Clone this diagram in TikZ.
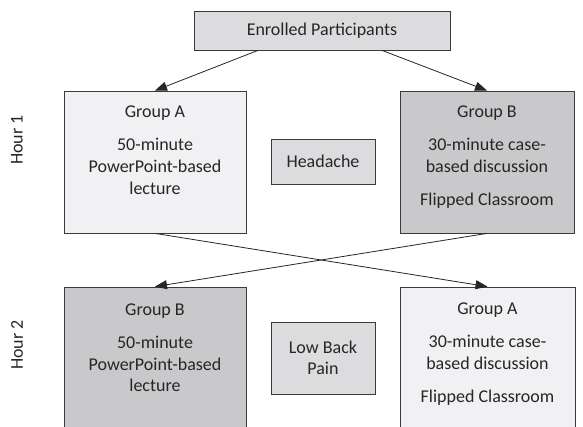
\documentclass[tikz,border=0pt]{standalone}
\usepackage{fontspec}
\setmainfont{Carlito}
\usetikzlibrary{arrows.meta,calc}
\definecolor{lightbox}{HTML}{DCDCDE}
\definecolor{paleA}{HTML}{F1F1F3}
\definecolor{darkB}{HTML}{C9C9CB}
\definecolor{edge}{HTML}{3A3A3A}
\definecolor{ink}{HTML}{262626}
\tikzset{
  box/.style={draw=edge, line width=0.8pt, rectangle, inner sep=0pt},
  grpA/.style={box, fill=paleA},
  grpB/.style={box, fill=darkB},
  info/.style={box, fill=lightbox, text=ink, font=\fontsize{18}{21.6}\selectfont, align=center},
  txt/.style={inner sep=0pt, text=ink, font=\fontsize{18}{21.6}\selectfont, align=center},
  hour/.style={inner sep=0pt, text=ink, font=\fontsize{18}{21.6}\selectfont, rotate=90},
  arr/.style={draw=ink, line width=0.8pt, -{Triangle[length=12pt,width=9pt]}}
}
\begin{document}
\begin{tikzpicture}[x=1pt,y=-1pt]
\useasboundingbox (0,0) rectangle (583,426);
\clip (0,0) rectangle (583,426);
\fill[white] (0,0) rectangle (583,426);
% top
\node[info, minimum width=256pt, minimum height=39pt] (en) at (322,30.5) {Enrolled Participants};
% hour 1
\node[grpA, minimum width=182pt, minimum height=142pt] (ga1) at (155,162) {};
\node[txt, anchor=north] (ga1t) at (155,106) {Group A\\[11.5pt]50-minute\\PowerPoint-based\\lecture};
\node[grpB, minimum width=174pt, minimum height=142pt] (gb1) at (487,162) {};
\node[txt, anchor=north] (gb1t) at (487,105.5) {Group B\\[12pt]30-minute case-\\based discussion\\[11.5pt]Flipped Classroom};
\node[info, minimum width=104pt, minimum height=45pt] (hd) at (323,161.5) {Headache};
% hour 2
\node[grpB, minimum width=182pt, minimum height=160pt] (gb2) at (155,367) {};
\node[txt, anchor=north] (gb2t) at (155,303.5) {Group B\\[11.5pt]50-minute\\PowerPoint-based\\lecture};
\node[grpA, minimum width=175pt, minimum height=160pt] (ga2) at (487.5,367) {};
\node[txt, anchor=north] (ga2t) at (487.5,302.5) {Group A\\[12pt]30-minute case-\\based discussion\\[11.5pt]Flipped Classroom};
\node[info, minimum width=104pt, minimum height=72pt] (lb) at (323,358) {Low Back\\Pain};
% hour labels
\node[hour] (h1) at (17,140) {Hour 1};
\node[hour] (h2) at (17,345) {Hour 2};
% connectors
\draw[arr] ($(en.south)+(-64,0)$) -- (ga1.north);
\draw[arr] ($(en.south)+(60,0)$) -- (gb1.north);
\draw[arr] (ga1.south) -- (ga2.north);
\draw[arr] (gb1.south) -- (gb2.north);
\end{tikzpicture}
\end{document}
